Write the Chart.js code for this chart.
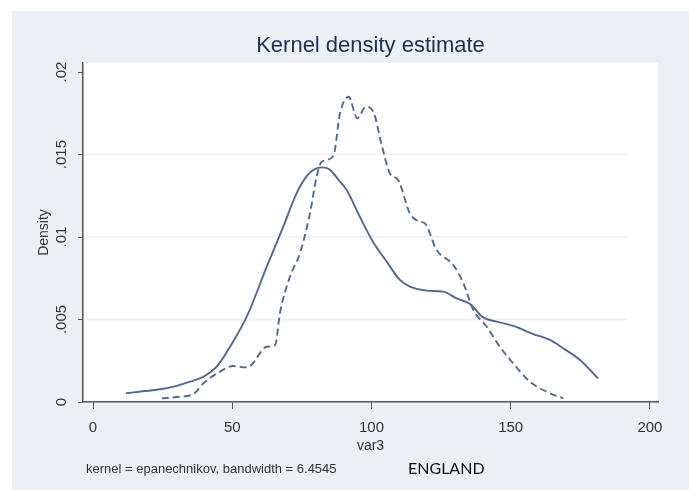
<!DOCTYPE html>
<html>
<head>
<meta charset="utf-8">
<script src="https://cdn.jsdelivr.net/npm/chart.js@4/dist/chart.umd.min.js"></script>
<style>
    body { margin: 0; background: #fff; }
    #wrap { width: 689px; height: 490px; }
</style>
</head>
<body>
<div id="wrap"><canvas id="chart" width="689" height="490"></canvas></div>
<script>
// solid curve
const solidX = [11.8, 18, 24.1, 30, 34.8, 39.6, 44.4, 49.2, 55.2, 62.4, 68.3, 73.1, 77, 79.5, 82.1, 85, 88, 91.1, 95.9, 100.6, 105.5, 110.2, 113.8, 119.8, 125.8, 130.6, 135.4, 140.1, 145, 150.9, 158.1, 164.1, 168.9, 174.9, 181.4];
const solidY = [0.00053, 0.00065, 0.00077, 0.00098, 0.00123, 0.00153, 0.00214, 0.00335, 0.00517, 0.0082, 0.01062, 0.01265, 0.01375, 0.0141, 0.01422, 0.0141, 0.0135, 0.01285, 0.0112, 0.0097, 0.0085, 0.0074, 0.007, 0.00675, 0.00669, 0.00628, 0.00594, 0.00513, 0.00487, 0.00461, 0.00412, 0.00376, 0.00325, 0.00255, 0.00143];

// dashed curve
const dashX = [24.7, 30, 36, 39.6, 45.6, 50.4, 54, 56.4, 62.4, 65.4, 67.1, 70.7, 74.3, 77.9, 80.3, 82.1, 86.3, 88.7, 91.8, 94.9, 98, 100.9, 103.5, 106.6, 109.6, 113.8, 117.4, 119.2, 123.4, 129.4, 133, 136.6, 141.4, 146.1, 150.9, 156.9, 162.9, 168.9];
const dashY = [0.00022, 0.0003, 0.00048, 0.00113, 0.00184, 0.00218, 0.0021, 0.00218, 0.00335, 0.00345, 0.00537, 0.00759, 0.00901, 0.01143, 0.01365, 0.01456, 0.01491, 0.0175, 0.0185, 0.0172, 0.0179, 0.0175, 0.0157, 0.01386, 0.01345, 0.01143, 0.01093, 0.01083, 0.00921, 0.0083, 0.0072, 0.00558, 0.00456, 0.00335, 0.00234, 0.00123, 0.00062, 0.00022];

const xTicks = [0, 50, 100, 150, 200];
const yTicks = [0, 0.005, 0.01, 0.015, 0.02];
const yTickLabels = ["0", ".005", ".01", ".015", ".02"];
const yGridAt = [0.005, 0.01, 0.015];

const lineColor = "#52698a";

function toPoints(xs, ys) {
    return xs.map((x, i) => ({ x: x, y: ys[i] }));
}

// background panels, short grid lines, rotated y labels and the extra texts
const stataLook = {
    id: "stataLook",
    beforeDraw(chart) {
        const ctx = chart.ctx;
        const a = chart.chartArea;
        ctx.save();
        ctx.fillStyle = "#eaf0f3";
        ctx.fillRect(12, 11, chart.width - 12, chart.height - 11);
        ctx.fillStyle = "#ffffff";
        ctx.fillRect(a.left, a.top, a.right - a.left, a.bottom - a.top);
        ctx.restore();
    },
    beforeDatasetsDraw(chart) {
        const ctx = chart.ctx;
        const a = chart.chartArea;
        const ys = chart.scales.y;
        ctx.save();
        ctx.strokeStyle = "#edf0f2";
        ctx.lineWidth = 1.5;
        yGridAt.forEach(v => {
            const py = ys.getPixelForValue(v);
            ctx.beginPath();
            ctx.moveTo(a.left + 4, py);
            ctx.lineTo(a.right - 31, py);
            ctx.stroke();
        });
        ctx.restore();
    },
    afterDraw(chart) {
        const ctx = chart.ctx;
        const a = chart.chartArea;
        const ys = chart.scales.y;
        ctx.save();
        ctx.fillStyle = "#333";
        ctx.font = "15px 'Liberation Sans', Arial, sans-serif";
        ctx.textAlign = "center";
        ctx.textBaseline = "middle";
        yTicks.forEach((v, i) => {
            ctx.save();
            ctx.translate(62, ys.getPixelForValue(v));
            ctx.rotate(-Math.PI / 2);
            ctx.fillText(yTickLabels[i], 0, 0);
            ctx.restore();
        });

        // axis titles
        ctx.font = "14px 'Liberation Sans', Arial, sans-serif";
        ctx.save();
        ctx.translate(44, (a.top + a.bottom) / 2);
        ctx.rotate(-Math.PI / 2);
        ctx.fillText("Density", 0, 0);
        ctx.restore();
        ctx.fillText("var3", (a.left + a.right) / 2, 446);

        // title
        ctx.fillStyle = "#1e3050";
        ctx.font = "22px 'Liberation Sans', Arial, sans-serif";
        ctx.fillText("Kernel density estimate", (a.left + a.right) / 2, 46);

        // note + label
        ctx.fillStyle = "#333";
        ctx.textAlign = "left";
        ctx.font = "13px 'Liberation Sans', Arial, sans-serif";
        ctx.fillText("kernel = epanechnikov, bandwidth = 6.4545", 86, 469);
        ctx.fillStyle = "#111";
        ctx.font = "16px Lato, 'Open Sans', sans-serif";
        ctx.fillText("ENGLAND", 408, 469);
        ctx.restore();
    }
};

new Chart(document.getElementById("chart"), {
    type: "line",
    data: {
        datasets: [{
            label: "solid",
            data: toPoints(solidX, solidY),
            borderColor: lineColor,
            borderWidth: 1.9,
            pointRadius: 0,
            cubicInterpolationMode: "monotone",
            fill: false
        }, {
            label: "dashed",
            data: toPoints(dashX, dashY),
            borderColor: lineColor,
            borderWidth: 1.9,
            borderDash: [7, 4],
            pointRadius: 0,
            cubicInterpolationMode: "monotone",
            fill: false
        }]
    },
    options: {
        responsive: false,
        animation: false,
        layout: { padding: { left: 0, top: 63, right: 31, bottom: 0 } },
        plugins: {
            legend: { display: false },
            tooltip: { enabled: false }
        },
        scales: {
            x: {
                type: "linear",
                min: -3.6,
                max: 202.9,
                afterBuildTicks: s => { s.ticks = xTicks.map(v => ({ value: v })); },
                afterFit: s => { s.height = 88; },
                grid: { drawOnChartArea: false, tickLength: 7, tickColor: "#555" },
                border: { color: "#555", width: 1.5 },
                ticks: {
                    padding: 10,
                    color: "#333",
                    font: { family: "'Liberation Sans', Arial, sans-serif", size: 15 }
                }
            },
            y: {
                min: 0,
                max: 0.02055,
                afterBuildTicks: s => { s.ticks = yTicks.map(v => ({ value: v })); },
                afterFit: s => { s.width = 83; },
                grid: {
                    drawOnChartArea: false,
                    tickLength: 5,
                    tickColor: "#555"
                },
                border: { color: "#555", width: 1.5 },
                ticks: { display: false }
            }
        }
    },
    plugins: [stataLook]
});
</script>
</body>
</html>
